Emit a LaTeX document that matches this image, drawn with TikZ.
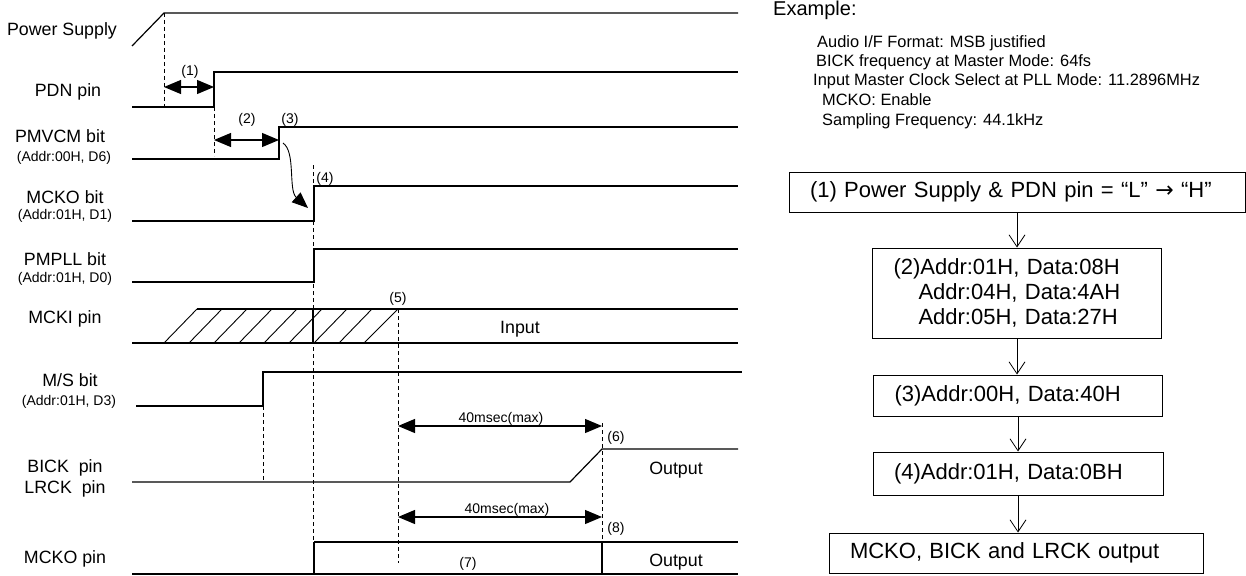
\documentclass[tikz,border=0pt]{standalone}
\usepackage{fontspec}
\setmainfont{Liberation Sans}
\newfontfamily\arrowfont{DejaVu Sans}
\usetikzlibrary{arrows.meta}

\begin{document}
\begin{tikzpicture}[x=1pt, y=-1pt,
        sig/.style={line width=1.2pt},
        guide/.style={line width=0.9pt, dash pattern=on 4pt off 3pt},
        span/.style={line width=1.2pt, {Triangle[length=17pt,width=14pt]}-{Triangle[length=17pt,width=14pt]}},
        lbl/.style={font=\fontsize{17.8}{20}\selectfont, anchor=base, inner sep=0pt},
        sublbl/.style={font=\fontsize{14}{16}\selectfont, anchor=base, inner sep=0pt},
        evt/.style={font=\fontsize{14}{16}\selectfont, anchor=base, inner sep=0pt},
        note/.style={font=\fontsize{16.4}{19}\selectfont, anchor=base west, inner sep=0pt},
        flowbox/.style={draw, line width=1pt, align=left, inner xsep=21pt, inner ysep=0pt, font=\fontsize{22}{25}\selectfont},
        flowarrow/.style={line width=0.8pt, -{Straight Barb[length=12pt,width=16pt]}}]
        \useasboundingbox (0, 0) rectangle (1246, 575);
        % Power Supply
        \node[lbl] (pwrlbl) at (62, 36) {Power Supply};
        \draw[sig] (132, 46) -- (164, 13) -- (738, 13);
        \draw[guide] (164, 13) -- (164, 107);
        % PDN
        \node[lbl] (pdnlbl) at (68, 97) {PDN pin};
        \draw[sig] (132, 107) -- (214, 107) -- (214, 72) -- (738, 72);
        \draw[guide] (214, 107) -- (214, 156);
        \draw[span] (164, 87) -- (214, 87);
        \node[evt] (evt1) at (190, 76) {(1)};
        % PMVCM
        \node[lbl] (vcmlbl) at (60, 142) {PMVCM bit};
        \node[sublbl] (vcmsub) at (64, 161) {(Addr:00H, D6)};
        \draw[sig] (132, 159) -- (279, 159) -- (279, 127) -- (738, 127);
        \draw[span] (214, 140) -- (279, 140);
        \node[evt] (evt2) at (247, 123) {(2)};
        \node[evt] (evt3) at (290, 123) {(3)};
        \draw[line width=0.9pt, -{Triangle[length=16pt,width=13pt]}] (283, 143) .. controls (296, 152) and (288, 190) .. (308, 208);
        % MCKO bit
        \node[lbl] (mckolbl) at (65, 203) {MCKO bit};
        \node[sublbl] (mckosub) at (65, 219) {(Addr:01H, D1)};
        \draw[sig] (132, 221) -- (314, 221) -- (314, 186) -- (738, 186);
        \draw[guide] (313, 165) -- (313, 542);
        \node[evt] (evt4) at (325, 182) {(4)};
        % PMPLL
        \node[lbl] (plllbl) at (65, 265) {PMPLL bit};
        \node[sublbl] (pllsub) at (65, 282) {(Addr:01H, D0)};
        \draw[sig] (132, 282) -- (314, 282) -- (314, 249) -- (738, 249);
        % MCKI
        \node[lbl] (mckilbl) at (65, 323) {MCKI pin};
        \draw[sig] (132, 343) -- (738, 343);
        \draw[sig] (197, 309) -- (738, 309);
        \draw[guide] (398, 309) -- (398, 563);
        \draw[sig] (313, 309) -- (313, 343);
        \draw[line width=0.9pt] (164, 343) -- (197, 309); \draw[line width=0.9pt] (189, 343) -- (222, 309); \draw[line width=0.9pt] (214, 343) -- (247, 309);
        \draw[line width=0.9pt] (239, 343) -- (272, 309); \draw[line width=0.9pt] (264, 343) -- (297, 309); \draw[line width=0.9pt] (289, 343) -- (322, 309);
        \draw[line width=0.9pt] (314, 343) -- (347, 309); \draw[line width=0.9pt] (339, 343) -- (372, 309); \draw[line width=0.9pt] (364, 343) -- (398, 309);
        \node[evt] (evt5) at (398, 302) {(5)};
        \node[lbl] (mckiin) at (520, 333) {Input};
        % M/S
        \node[lbl] (mslbl) at (70, 386) {M/S bit};
        \node[sublbl] (mssub) at (69, 405) {(Addr:01H, D3)};
        \draw[sig] (136, 406) -- (263, 406) -- (263, 372) -- (742, 372);
        \draw[guide] (263, 406) -- (263, 482);
        % BICK / LRCK
        \node[lbl] (bicklbl) at (65, 472) {BICK\ \ pin};
        \node[lbl] (lrcklbl) at (65, 493) {LRCK\ \ pin};
        \draw[sig] (132, 482) -- (570, 482) -- (602, 449) -- (738, 449);
        \draw[guide] (602, 423) -- (602, 542);
        \draw[span] (398, 426) -- (602, 426);
        \node[evt] (wait1) at (501, 422) {40msec(max)};
        \node[evt] (evt6) at (616, 441) {(6)};
        \node[lbl] (bickout) at (676, 474) {Output};
        % MCKO pin
        \node[lbl] (mckopin) at (65, 563) {MCKO pin};
        \draw[sig] (132, 574) -- (738, 574);
        \draw[sig] (314, 542) -- (738, 542);
        \draw[sig] (314, 542) -- (314, 574); \draw[sig] (602, 542) -- (602, 574);
        \draw[span] (398, 517) -- (602, 517);
        \node[evt] (wait2) at (507, 513) {40msec(max)};
        \node[evt] (evt8) at (616, 532) {(8)};
        \node[evt] (evt7) at (468, 567) {(7)};
        \node[lbl] (mckoout) at (676, 566) {Output};
        % Example settings
        \node[font=\fontsize{20}{22}\selectfont, anchor=base west, inner sep=0pt] (extitle) at (773, 16) {Example:};
        \node[note] (fmt) at (817, 48) {Audio I/F Format: MSB justified};
        \node[note] (bfs) at (816, 67) {BICK frequency at Master Mode: 64fs};
        \node[note] (mclk) at (813, 86) {Input Master Clock Select at PLL Mode: 11.2896MHz};
        \node[note] (mcen) at (822, 106) {MCKO: Enable};
        \node[note] (fs) at (822, 125) {Sampling Frequency: 44.1kHz};
        % Sequence
        \node[flowbox, text width=414pt, minimum height=40pt] (pwrup) at (1017, 192) {(1) Power Supply \& PDN pin = “L” {\arrowfont →} “H”};
        \node[flowbox, text width=247pt, minimum height=90pt] (regpll) at (1017, 293) {(2)Addr:01H, Data:08H\\\hspace*{25pt}Addr:04H, Data:4AH\\\hspace*{25pt}Addr:05H, Data:27H};
        \node[flowbox, text width=247pt, minimum height=41pt] (regvcm) at (1018, 395.5) {(3)Addr:00H, Data:40H};
        \node[flowbox, text width=248pt, minimum height=43pt] (regmcko) at (1018, 473.5) {(4)Addr:01H, Data:0BH};
        \node[flowbox, text width=332pt, minimum height=40pt] (clkout) at (1016, 553) {MCKO, BICK and LRCK output};
        \draw[flowarrow] (pwrup.south) -- (pwrup.south |- regpll.north);
        \draw[flowarrow] (regpll.south) -- (regpll.south |- regvcm.north);
        \draw[flowarrow] (regvcm.south) -- (regvcm.south |- regmcko.north);
        \draw[flowarrow] (regmcko.south) -- (regmcko.south |- clkout.north);
    \end{tikzpicture}
\end{document}
